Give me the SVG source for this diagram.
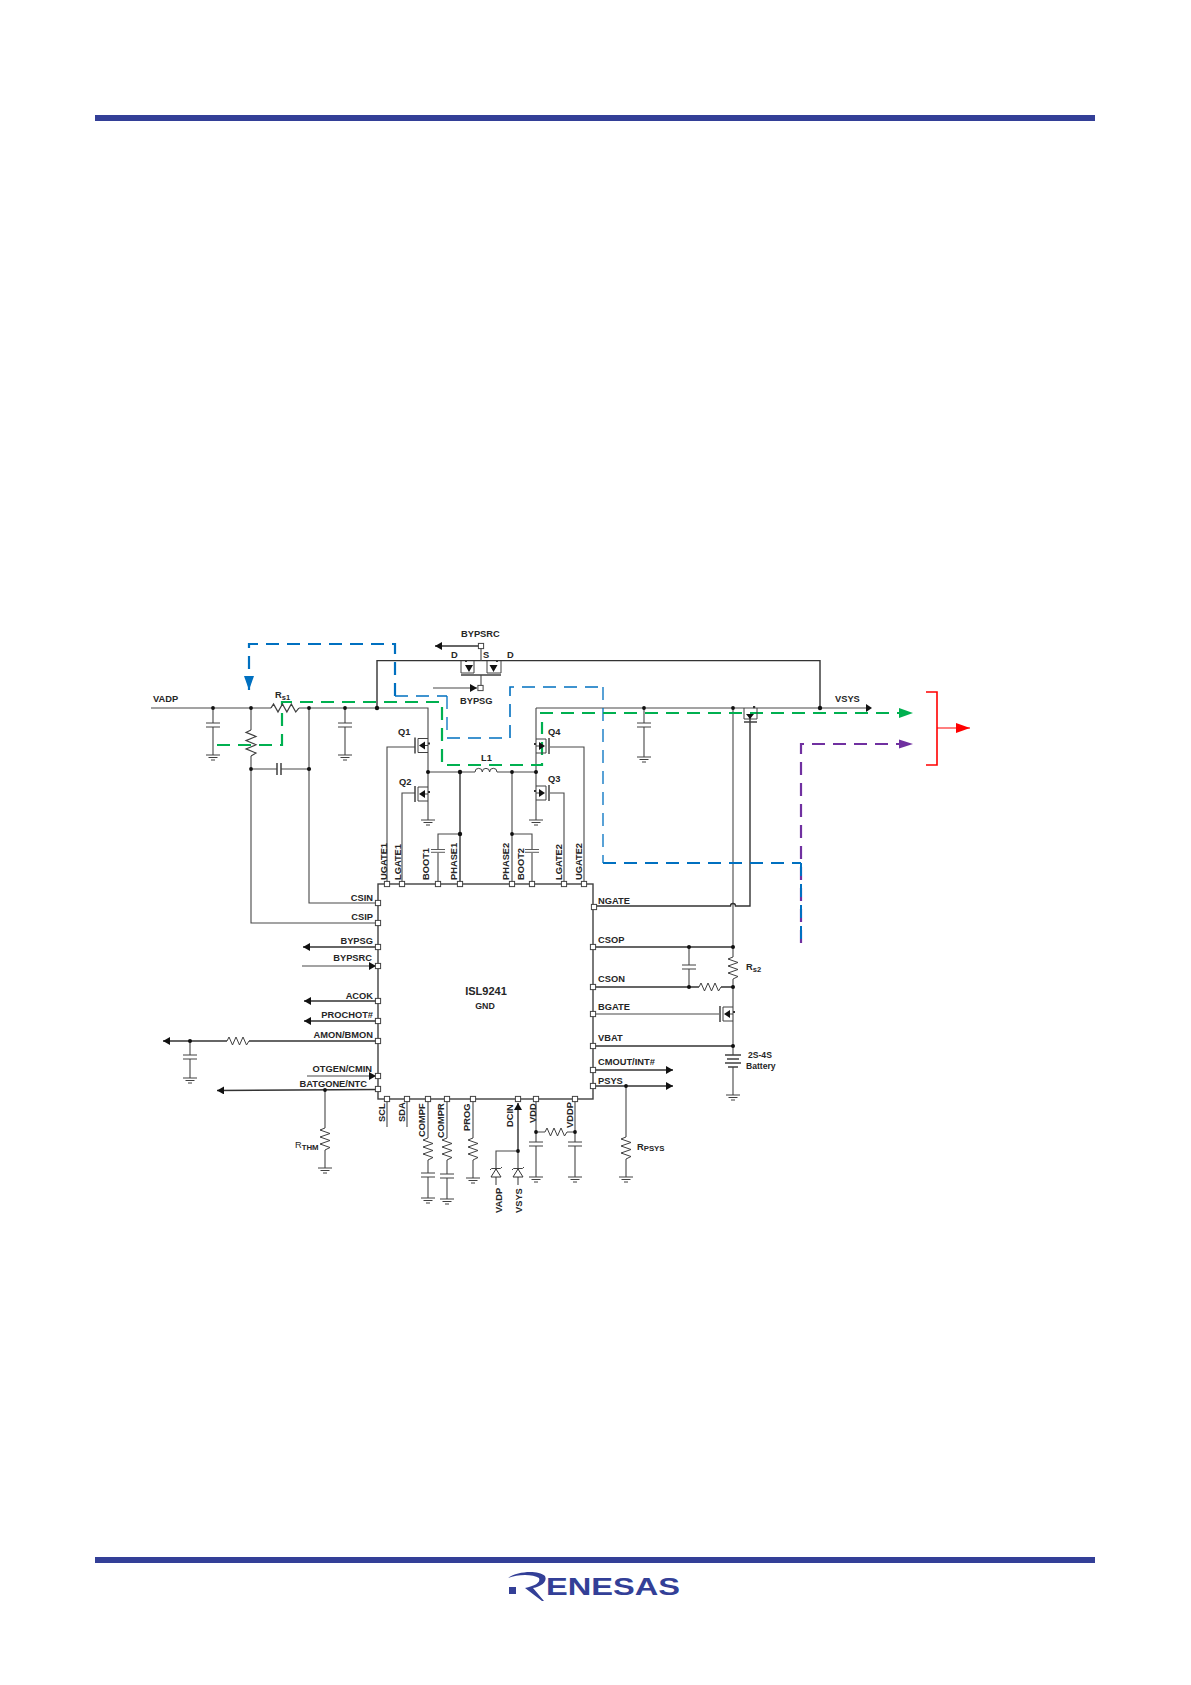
<svg xmlns="http://www.w3.org/2000/svg" width="1191" height="1685" viewBox="0 0 1191 1685">
<style>
text{font-family:"Liberation Sans",Arial,sans-serif;font-weight:bold;font-size:9.3px;fill:#262626}
.e{text-anchor:end}
.v{font-size:9.3px}
.w{fill:none;stroke:#484848;stroke-width:1.1}
.wd{fill:none;stroke:#333;stroke-width:1.4}
.sym{fill:none;stroke:#404040;stroke-width:1}
.bar{fill:none;stroke:#404040;stroke-width:1.5}
.dot{fill:#111}
.pin{fill:#fff;stroke:#444;stroke-width:1}
.tri{fill:#111;stroke:none}
.blue{fill:none;stroke:#0070C0;stroke-dasharray:13 8}
.green{fill:none;stroke:#00B050;stroke-width:2.2;stroke-dasharray:13 8}
.purple{fill:none;stroke:#7030A0;stroke-width:2.2;stroke-dasharray:13 8}
.brand{fill:#333F97}
</style>
<defs>
<marker id="ak" markerUnits="userSpaceOnUse" markerWidth="8" markerHeight="9" refX="7" refY="4" orient="auto"><path d="M0,0 L7,4 L0,8z" fill="#111"/></marker>
<marker id="ab" markerUnits="userSpaceOnUse" markerWidth="15" markerHeight="11" refX="14" refY="5" orient="auto"><path d="M0,0 L14,5 L0,10z" fill="#0070C0"/></marker>
<marker id="ag" markerUnits="userSpaceOnUse" markerWidth="15" markerHeight="11" refX="14" refY="5" orient="auto"><path d="M0,0 L14,5 L0,10z" fill="#00B050"/></marker>
<marker id="ap" markerUnits="userSpaceOnUse" markerWidth="15" markerHeight="11" refX="14" refY="5" orient="auto"><path d="M0,0.500 L14,5 L0,9.500z" fill="#7030A0"/></marker>
<marker id="ar" markerUnits="userSpaceOnUse" markerWidth="15" markerHeight="11" refX="14" refY="5" orient="auto"><path d="M0,0 L14,5 L0,10z" fill="#FF0000"/></marker>
<g id="gnd"><path class="sym" d="M-7,0 H7 M-4.500,2.500 H4.500 M-2,5 H2"/></g>
<path id="rv" class="sym" d="M0,0 L-5,2 L5,5.500 L-5,9 L5,12.500 L-5,16 L5,19.500 L0,22"/>
<path id="rh" class="sym" d="M0,0 L2,-4 L5.500,4 L9,-4 L12.500,4 L16,-4 L19.500,4 L22,0"/>
<path id="ch" class="sym" d="M-7,0 H7 M-7,4 H7"/>
<g id="fet"><path class="sym" d="M0,-7 H-10 V7 H0"/><path class="bar" d="M-13,-8 V8"/><path class="tri" d="M-9,0 L-3,-4 V4z"/><path class="sym" d="M-3,0 H0"/><rect x="0" y="-3" width="2" height="2" fill="#333"/></g>
<rect id="pin" class="pin" x="-2.600" y="-2.600" width="5.200" height="5.200"/>
</defs>

<rect id="top-rule" class="brand" x="95" y="115" width="1000" height="6"/>
<rect id="bottom-rule" class="brand" x="95" y="1557" width="1000" height="6"/>

<g id="connectors">
<path class="w" d="M151,708 H271 M299,708 H428 V820 M213,708 V723 M213,727 V755 M251,708 V730 M251,756 V923 H378 M251,769 H277 M281,769 H309 M309,708 V903 H378 M345,708 V723 M345,727 V755"/>
<path class="wd" d="M377,708 V660.600 H820 V708"/>
<path class="w" d="M428,772 H475 M497,772 H536 M536,708 V820 M536,708 H868"/>
<path class="tri" d="M866,704 L872,708 L866,712z"/>
<path class="wd" d="M460,772 V884"/>
<path class="w" d="M460,834 H438 V849 M438,853 V884 M512,772 V884 M512,834 H532 V849 M532,853 V884"/>
<path class="w" d="M415,747 H387 V884 M415,793 H402 V884 M550,747 H584 V884 M550,793 H564 V884"/>
<path class="w" d="M644,708 V723 M644,727 V757"/>
<path class="w" d="M733,708 V957 M733,979 V1055 M733,1067 V1095"/>
<path class="wd" d="M594,906 H730.500 a2.500,2.500 0 0 1 5,0 H750 V716"/>
<path class="wd" d="M593,947 H733 M593,987 H699 M721,987 H733"/>
<path class="w" d="M689,947 V965 M689,969 V987 M593,1014 H719"/>
<path class="wd" d="M593,1046 H733"/>
<path class="wd" d="M593,1070 H673" marker-end="url(#ak)"/>
<path class="wd" d="M593,1086 H673" marker-end="url(#ak)"/>
<path class="w" d="M626,1086 V1137 M626,1159 V1177"/>
<path class="wd" d="M378,947 H303" marker-end="url(#ak)"/>
<path class="w" d="M302,966 H376" marker-end="url(#ak)"/>
<path class="wd" d="M378,1001 H304" marker-end="url(#ak)"/>
<path class="wd" d="M378,1021 H304" marker-end="url(#ak)"/>
<path class="wd" d="M378,1041 H249"/>
<path class="wd" d="M227,1041 H163" marker-end="url(#ak)"/>
<path class="w" d="M190,1041 V1055 M190,1059 V1078"/>
<path class="w" d="M307,1076 H376" marker-end="url(#ak)"/>
<path class="wd" d="M378,1089.500 L217,1090.500" marker-end="url(#ak)"/>
<path class="w" d="M325,1090 V1128 M325,1150 V1168"/>
<path class="w" d="M387,1099 V1127 M407,1099 V1127"/>
<path class="w" d="M428,1099 V1138 M428,1160 V1173 M428,1177 V1198 M447,1099 V1138 M447,1160 V1174 M447,1178 V1199 M473,1099 V1138 M473,1160 V1178"/>
<path class="wd" d="M518,1151 V1103" marker-end="url(#ak)"/>
<path class="w" d="M518,1151 V1185 M518,1151 H496 V1185"/>
<path class="w" d="M536,1099 V1142 M536,1146 V1177 M575,1099 V1142 M575,1146 V1177 M536,1132 H545 M567,1132 H575"/>
<path class="wd" d="M481,646 H435" marker-end="url(#ak)"/>
<path class="w" d="M481,646 V661 M481,675 V688"/>
<path class="w" d="M433,688 H477" marker-end="url(#ak)"/>
<path class="blue" stroke-width="2.200" d="M395,696 V644 H249 V690" marker-end="url(#ab)"/>
<path class="blue" stroke-width="1.700" d="M395,696 H447"/>
<path class="blue" stroke-width="1.300" d="M447,696 V738 H510"/>
<path class="blue" stroke-width="1.600" d="M510,738 V687 H603"/>
<path class="blue" stroke-width="1.300" d="M603,687 V863"/>
<path class="blue" stroke-width="1.800" d="M603,863 H801"/>
<path class="purple" d="M801,943 V744 H913" marker-end="url(#ap)"/>
<path class="blue" stroke-width="2" d="M801,863 V943"/>
<path class="green" d="M217,745 H282 V702 H442 V765 H542 V722"/>
<path class="green" d="M540,713 H913" marker-end="url(#ag)"/>
<path d="M926,692 H937 V765 H926" fill="none" stroke="#FF0000" stroke-width="1.600"/>
<path d="M937,728 H970" fill="none" stroke="#FF0000" stroke-width="1.100" marker-end="url(#ar)"/>
<g class="dots">
<circle class="dot" cx="213" cy="708" r="1.900"/><circle class="dot" cx="251" cy="708" r="1.900"/><circle class="dot" cx="309" cy="708" r="1.900"/><circle class="dot" cx="345" cy="708" r="1.900"/><circle class="dot" cx="377" cy="708" r="2.200"/>
<circle class="dot" cx="251" cy="769" r="1.900"/><circle class="dot" cx="309" cy="769" r="2.100"/>
<circle class="dot" cx="428" cy="772" r="2"/><circle class="dot" cx="460" cy="772" r="2.200"/><circle class="dot" cx="512" cy="772" r="1.900"/><circle class="dot" cx="536" cy="772" r="2"/>
<circle class="dot" cx="460" cy="834" r="2.200"/><circle class="dot" cx="512" cy="834" r="1.900"/>
<circle class="dot" cx="644" cy="708" r="1.900"/><circle class="dot" cx="733" cy="708" r="1.900"/><circle class="dot" cx="820" cy="708" r="2.200"/>
<circle class="dot" cx="733" cy="947" r="2"/><circle class="dot" cx="689" cy="947" r="2"/><circle class="dot" cx="689" cy="987" r="2"/><circle class="dot" cx="733" cy="987" r="2"/><circle class="dot" cx="733" cy="1046" r="2"/>
<circle class="dot" cx="626" cy="1086" r="1.900"/><circle class="dot" cx="190" cy="1041" r="2"/><circle class="dot" cx="325" cy="1090" r="1.900"/>
<circle class="dot" cx="518" cy="1151" r="1.900"/><circle class="dot" cx="536" cy="1132" r="1.900"/><circle class="dot" cx="575" cy="1132" r="1.900"/>
</g>
</g>

<g id="ISL9241">
<rect x="378" y="884" width="215" height="215" fill="none" stroke="#404040" stroke-width="1.400"/>
<text x="486" y="995" text-anchor="middle" style="font-size:11px">ISL9241</text>
<text x="485" y="1009" text-anchor="middle" style="font-size:8.800px">GND</text>
<g id="pins-top">
<use href="#pin" x="387" y="884"/><use href="#pin" x="402" y="884"/><use href="#pin" x="438" y="884"/><use href="#pin" x="460" y="884"/><use href="#pin" x="512" y="884"/><use href="#pin" x="532" y="884"/><use href="#pin" x="564" y="884"/><use href="#pin" x="584" y="884"/>
</g>
<g id="pins-left">
<use href="#pin" x="378" y="903"/><use href="#pin" x="378" y="923"/><use href="#pin" x="378" y="947"/><use href="#pin" x="378" y="966"/><use href="#pin" x="378" y="1001"/><use href="#pin" x="378" y="1021"/><use href="#pin" x="378" y="1041"/><use href="#pin" x="378" y="1076"/><use href="#pin" x="378" y="1089"/>
</g>
<g id="pins-bottom">
<use href="#pin" x="387" y="1099"/><use href="#pin" x="407" y="1099"/><use href="#pin" x="428" y="1099"/><use href="#pin" x="447" y="1099"/><use href="#pin" x="473" y="1099"/><use href="#pin" x="518" y="1099"/><use href="#pin" x="536" y="1099"/><use href="#pin" x="575" y="1099"/>
</g>
<g id="pins-right">
<use href="#pin" x="594" y="907"/><use href="#pin" x="593" y="947"/><use href="#pin" x="593" y="987"/><use href="#pin" x="593" y="1014"/><use href="#pin" x="593" y="1046"/><use href="#pin" x="593" y="1070"/><use href="#pin" x="593" y="1086"/>
</g>
<g class="labels">
<text class="v" transform="translate(386.500,880) rotate(-90)">UGATE1</text>
<text class="v" transform="translate(401,880) rotate(-90)">LGATE1</text>
<text class="v" transform="translate(429,880) rotate(-90)">BOOT1</text>
<text class="v" transform="translate(457,880) rotate(-90)">PHASE1</text>
<text class="v" transform="translate(509,880) rotate(-90)">PHASE2</text>
<text class="v" transform="translate(524,880) rotate(-90)">BOOT2</text>
<text class="v" transform="translate(562,880) rotate(-90)">LGATE2</text>
<text class="v" transform="translate(582,880) rotate(-90)">UGATE2</text>
<text class="e" x="373" y="901">CSIN</text>
<text class="e" x="373" y="920">CSIP</text>
<text class="e" x="373" y="944">BYPSG</text>
<text class="e" x="372" y="961">BYPSRC</text>
<text class="e" x="373" y="999">ACOK</text>
<text class="e" x="373" y="1018">PROCHOT#</text>
<text class="e" x="373" y="1038">AMON/BMON</text>
<text class="e" x="372" y="1072">OTGEN/CMIN</text>
<text class="e" x="367" y="1087">BATGONE/NTC</text>
<text x="598" y="904">NGATE</text>
<text x="598" y="943">CSOP</text>
<text x="598" y="982">CSON</text>
<text x="598" y="1010">BGATE</text>
<text x="598" y="1041">VBAT</text>
<text x="598" y="1065">CMOUT/INT#</text>
<text x="598" y="1084">PSYS</text>
<text class="v" transform="translate(385,1122) rotate(-90)">SCL</text>
<text class="v" transform="translate(405,1122) rotate(-90)">SDA</text>
<text class="v" transform="translate(425,1137) rotate(-90)">COMPF</text>
<text class="v" transform="translate(444,1138) rotate(-90)">COMPR</text>
<text class="v" transform="translate(470,1131) rotate(-90)">PROG</text>
<text class="v" transform="translate(513,1127) rotate(-90)">DCIN</text>
<text class="v" transform="translate(535.500,1123) rotate(-90)">VDD</text>
<text class="v" transform="translate(573,1128) rotate(-90)">VDDP</text>
</g>
</g>

<g id="VADP"><text x="153" y="702">VADP</text></g>
<g id="VSYS"><text x="835" y="702">VSYS</text></g>
<g id="C-in"><use href="#ch" x="213" y="723"/><use href="#gnd" x="213" y="755"/></g>
<g id="R-sense-in"><use href="#rv" transform="translate(251,730) scale(1,1.180)"/></g>
<g id="C-filter"><path class="bar" d="M277,763 V775 M281,763 V775"/></g>
<g id="Rs1"><use href="#rh" transform="translate(271,708) scale(1.270,1)"/><text x="275" y="698">R<tspan dy="2" style="font-size:7.500px">s1</tspan></text></g>
<g id="C-out1"><use href="#ch" x="345" y="723"/><use href="#gnd" x="345" y="755"/></g>
<g id="BYPASS-FET">
<path class="sym" d="M461,661 V673 H474 V661 M487,661 V673 H501 V661"/>
<path class="bar" d="M461,675 H501"/>
<path class="tri" d="M465,665 H473 L469,672z M489.500,665 H497.500 L493.500,672z"/>
<rect x="465" y="660" width="2" height="2" fill="#333"/><rect x="496" y="660" width="2" height="2" fill="#333"/>
<use href="#pin" x="481" y="646"/><use href="#pin" x="480.500" y="688"/>
<text x="461" y="637">BYPSRC</text><text x="460" y="704">BYPSG</text>
<text x="451" y="658">D</text><text x="483" y="658">S</text><text x="507" y="658">D</text>
</g>
<g id="Q1"><use href="#fet" x="428" y="745.500"/><text x="398" y="735">Q1</text></g>
<g id="Q2"><use href="#fet" x="428" y="794"/><text x="399" y="785">Q2</text></g>
<g id="Q3"><use href="#fet" transform="translate(536,793) scale(-1,1)"/><text x="548" y="782">Q3</text></g>
<g id="Q4"><use href="#fet" transform="translate(536,746) scale(-1,1)"/><text x="548" y="735">Q4</text></g>
<g id="L1"><path class="sym" d="M475,772 a3.600,3.600 0 0 1 7.300,0 a3.600,3.600 0 0 1 7.300,0 a3.600,3.600 0 0 1 7.400,0"/><text x="481" y="761">L1</text></g>
<g id="C-boot1"><use href="#ch" transform="translate(438,849.500) scale(1,0.700)"/></g>
<g id="C-boot2"><use href="#ch" transform="translate(532,849.500) scale(1,0.700)"/></g>
<g id="gnd-q2"><use href="#gnd" x="428" y="820"/></g>
<g id="gnd-q3"><use href="#gnd" x="536" y="820"/></g>
<g id="C-out2"><use href="#ch" x="644" y="723"/><use href="#gnd" x="644" y="757"/></g>
<g id="NGATE-FET">
<path class="sym" d="M744,708 V719 H757 V708"/><path class="bar" d="M744,722 H757"/>
<path class="tri" d="M746,714 H754 L750,719z"/><rect x="753" y="706" width="2.200" height="2.200" fill="#333"/>
</g>
<g id="Rs2"><use href="#rv" x="733" y="957"/><text x="746" y="970">R<tspan dy="2" style="font-size:7.500px">s2</tspan></text></g>
<g id="C-cs"><use href="#ch" x="689" y="965"/></g>
<g id="R-cs"><use href="#rh" x="699" y="987"/></g>
<g id="BGATE-FET"><use href="#fet" x="733" y="1014"/></g>
<g id="Battery">
<path class="bar" d="M725,1055 H741 M727,1059 H739 M725,1063 H741 M728,1067 H738"/>
<use href="#gnd" x="733" y="1095"/>
<text x="748" y="1058" style="font-size:8.600px">2S-4S</text><text x="746" y="1069" style="font-size:8.600px">Battery</text>
</g>
<g id="RPSYS"><use href="#rv" x="626" y="1137"/><use href="#gnd" x="626" y="1177"/><text x="637" y="1150">R<tspan dy="1" style="font-size:7.800px">PSYS</tspan></text></g>
<g id="R-amon"><use href="#rh" x="227" y="1041"/></g>
<g id="C-amon"><use href="#ch" x="190" y="1055"/><use href="#gnd" x="190" y="1078"/></g>
<g id="RTHM"><use href="#rv" x="325" y="1128"/><use href="#gnd" x="325" y="1168"/><text x="295" y="1148" style="font-weight:normal">R<tspan dy="2" style="font-size:7.800px;font-weight:bold">THM</tspan></text></g>
<g id="COMPF-net"><use href="#rv" x="428" y="1138"/><use href="#ch" x="428" y="1173"/><use href="#gnd" x="428" y="1198"/></g>
<g id="COMPR-net"><use href="#rv" x="447" y="1138"/><use href="#ch" x="447" y="1174"/><use href="#gnd" x="447" y="1199"/></g>
<g id="PROG-net"><use href="#rv" x="473" y="1138"/><use href="#gnd" x="473" y="1178"/></g>
<g id="D-VADP"><path d="M496,1169 L491,1177 H501z" fill="#fff" stroke="#333" stroke-width="1"/><path class="sym" d="M490,1170 L491.500,1168.500 H500.500 L502,1167"/><text class="v" transform="translate(502,1213) rotate(-90)">VADP</text></g>
<g id="D-VSYS"><path d="M518,1169 L513,1177 H523z" fill="#fff" stroke="#333" stroke-width="1"/><path class="sym" d="M512,1170 L513.500,1168.500 H522.500 L524,1167"/><text class="v" transform="translate(522,1213) rotate(-90)">VSYS</text></g>
<g id="C-vdd"><use href="#ch" x="536" y="1142"/><use href="#gnd" x="536" y="1177"/></g>
<g id="C-vddp"><use href="#ch" x="575" y="1142"/><use href="#gnd" x="575" y="1177"/></g>
<g id="R-vdd"><use href="#rh" x="545" y="1132"/></g>

<g id="renesas-logo">
<rect class="brand" x="509" y="1587" width="7" height="7"/>
<path class="brand" d="M508,1578 C518,1571 538,1570 545,1576 C548,1582 540,1587 533,1588 L544,1601 L542,1601 L525,1588 C534,1586 541,1583 539,1578 C533,1574 518,1574 508,1578z"/>
<text x="546" y="1595" textLength="134" lengthAdjust="spacingAndGlyphs" style="font-size:23px;fill:#333F97">ENESAS</text>
</g>
</svg>
